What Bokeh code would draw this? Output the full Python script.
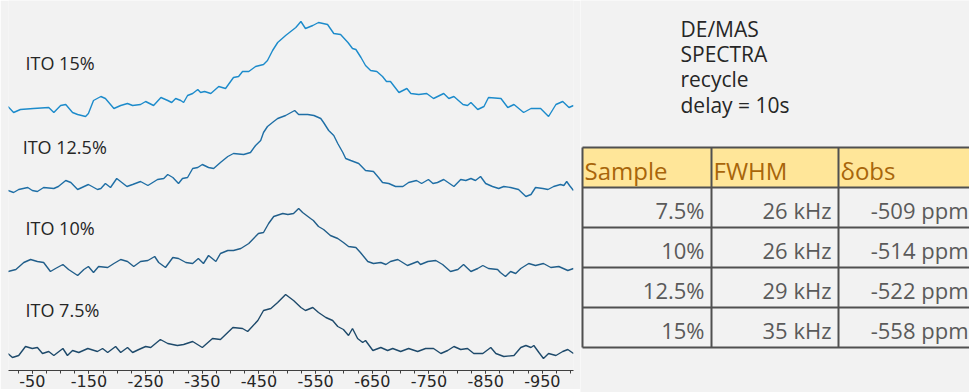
from bokeh.plotting import figure
from bokeh.models import Range1d, FixedTicker
from bokeh.layouts import row
from bokeh.core.properties import value
from bokeh.embed import file_html
from bokeh.resources import INLINE

# ---------------- data ----------------
labels = ["ITO 7.5%", "ITO 10%", "ITO 12.5%", "ITO 15%"]

ppm_15 = [-7, -17, -29, -52, -79, -88, -100, -109, -121, -130, -144, -149, -158, -171, -179, -194, -206, -218, -227, -241,
          -250, -264, -277, -289, -296, -303, -312, -317, -324, -333, -342, -347, -354, -365, -379, -391, -405, -414, -421, -432,
          -444, -458, -465, -474, -483, -497, -506, -515, -524, -532, -545, -555, -571, -582, -594, -607, -615, -621, -630, -638,
          -647, -658, -668, -675, -682, -697, -711, -718, -732, -746, -758, -776, -785, -794, -810, -818, -824, -836, -847, -855,
          -877, -889, -900, -917, -930, -947, -961, -974, -986, -997, -1005]
int_15 = [4, -2, 1, 2, 3, -2, 5, 6, -2, -4, -6, -3, 10, 14, 12, 2, 5, 7, 5, 6,
          9, 5, 13, 10, 8, 12, 10, 8, 15, 17, 21, 18, 19, 17, 24, 22, 33, 34, 39, 39,
          44, 46, 50, 60, 68, 75, 79, 83, 89, 82, 85, 88, 86, 77, 76, 68, 62, 61, 53, 45,
          40, 39, 34, 29, 29, 18, 22, 17, 16, 17, 12, 17, 12, 14, 6, 5, 8, 1, 4, 13,
          12, 3, 6, -2, 2, 2, -6, 6, 9, 3, 5]

ppm_125 = [-7, -17, -26, -42, -50, -59, -70, -88, -96, -109, -118, -130, -149, -165, -171, -179, -188, -199, -208, -217,
           -227, -241, -254, -271, -282, -289, -298, -308, -315, -324, -333, -342, -350, -361, -370, -382, -395, -405, -423, -435,
           -444, -453, -458, -465, -476, -483, -497, -513, -520, -536, -547, -559, -564, -573, -582, -589, -598, -603, -612, -626,
           -638, -652, -661, -668, -679, -691, -704, -714, -728, -737, -749, -757, -765, -776, -794, -806, -815, -824, -832, -841,
           -850, -862, -873, -882, -894, -908, -921, -930, -938, -951, -960, -970, -982, -988, -993, -998, -1005]
int_125 = [2, 0, 3, 5, 2, 1, 5, 4, 6, 12, 10, 3, 8, 3, 4, 9, 5, 14, 10, 6,
           8, 11, 7, 13, 14, 18, 15, 9, 14, 15, 24, 25, 28, 25, 24, 30, 36, 39, 38, 40,
           47, 52, 60, 66, 71, 74, 77, 82, 78, 78, 77, 74, 70, 62, 57, 49, 40, 34, 32, 29,
           22, 21, 15, 10, 9, 6, 6, 10, 12, 9, 13, 9, 10, 13, 6, 13, 12, 14, 12, 16,
           9, 6, 4, 6, 5, 3, -4, -2, 5, 4, 3, 6, 8, 7, 11, 7, 2]

ppm_10 = [-7, -21, -35, -47, -59, -70, -82, -91, -104, -114, -130, -141, -149, -158, -167, -183, -194, -206, -218, -229,
          -241, -254, -266, -273, -285, -298, -308, -321, -333, -343, -352, -361, -374, -382, -395, -405, -418, -432, -449, -458,
          -467, -476, -492, -501, -511, -520, -527, -534, -541, -546, -555, -564, -576, -589, -599, -608, -621, -629, -642, -652,
          -665, -674, -682, -695, -712, -730, -735, -748, -762, -774, -788, -801, -811, -824, -836, -845, -855, -871, -876, -885,
          -894, -903, -912, -926, -938, -952, -965, -979, -995, -1005]
int_10 = [1, 3, 10, 13, 11, 10, 1, 4, 8, 3, -3, 3, 6, 0, 6, 5, 9, 13, 11, 6,
          11, 12, 16, 10, 5, 15, 14, 10, 9, 14, 9, 17, 11, 19, 22, 22, 24, 29, 39, 40,
          49, 56, 59, 58, 59, 64, 60, 57, 54, 52, 46, 43, 37, 34, 30, 26, 25, 20, 11, 9,
          10, 8, 11, 13, 7, 11, 8, 11, 12, 8, 1, 3, 8, 1, 4, 7, 4, 3, 0, -4,
          1, -1, 4, 9, 7, 9, 5, 6, 2, 4]

ppm_75 = [-7, -15, -26, -38, -50, -59, -68, -79, -88, -104, -112, -121, -132, -148, -165, -174, -183, -197, -206, -218,
          -227, -238, -250, -259, -276, -289, -306, -317, -333, -350, -368, -382, -404, -421, -430, -448, -458, -471, -483, -497,
          -511, -524, -532, -545, -555, -568, -580, -589, -599, -608, -615, -624, -633, -638, -651, -665, -677, -686, -700, -714,
          -730, -744, -758, -771, -783, -794, -806, -818, -829, -845, -859, -868, -882, -900, -912, -921, -930, -935, -944, -952,
          -961, -974, -986, -995, -1005]
int_75 = [1, -3, -1, 8, 6, 7, 1, 3, -1, 6, -1, 4, 2, 6, 3, 6, 2, 8, 2, 7,
          2, 5, 8, 7, 15, 11, 9, 10, 13, 7, 16, 15, 27, 26, 23, 34, 44, 46, 52, 60,
          54, 47, 44, 47, 42, 37, 34, 28, 25, 19, 26, 16, 12, 14, 4, 7, 4, 6, 3, 6,
          3, 6, 6, 1, 4, 8, 5, 6, 1, 1, 7, 1, -2, -1, 7, 9, 7, 9, 2, -4,
          1, -1, 3, 5, 1]

tick_values = [-50, -150, -250, -350, -450, -550, -650, -750, -850, -950]

note_lines = ["DE/MAS", "SPECTRA", "recycle", "delay = 10s"]
table_header = ["Sample", "FWHM", "\u03b4obs"]
samples = ["7.5%", "10%", "12.5%", "15%"]
fwhm = ["26 kHz", "26 kHz", "29 kHz", "35 kHz"]
delta_obs = ["-509 ppm", "-514 ppm", "-522 ppm", "-558 ppm"]

# ---------------- layout / style ----------------
BG = "#F2F2F2"
stack_offset = [20, 102, 182, 264]          # vertical stacking of the spectra
colors = ["#1E4A6B", "#215E8A", "#1F6FA6", "#1C8BCB"]
label_x = [-38, -38, -33, -38]
label_dy = [45, 45, 46, 48]

p = figure(frame_width=565, frame_height=370, x_range=Range1d(-8, -1005), y_range=Range1d(4, 374),
           title=None, output_backend="svg", toolbar_location=None, y_axis_location=None,
           min_border_left=8, min_border_right=7, min_border_top=0, min_border_bottom=0,
           background_fill_color=BG, border_fill_color=BG, outline_line_color=None)
p.grid.visible = False

series = [(ppm_75, int_75), (ppm_10, int_10), (ppm_125, int_125), (ppm_15, int_15)]
for (xs, ys), off, c in zip(series, stack_offset, colors):
    p.line(x=xs, y=[v + off for v in ys], line_color=c, line_width=1.4)

p.text(x=label_x, y=[o + d for o, d in zip(stack_offset, label_dy)], text=labels,
       text_font=value("Open Sans"), text_font_size="18px", text_baseline="middle",
       text_align="left", text_color="#262626")

ax = p.xaxis[0]
ax.ticker = FixedTicker(ticks=tick_values, minor_ticks=list(range(-25, -1001, -25)))
ax.major_label_overrides = {t: str(t) for t in tick_values}
ax.axis_line_color = "#404040"
ax.major_tick_line_color = "#404040"
ax.minor_tick_line_color = "#404040"
ax.major_tick_in = 0
ax.major_tick_out = 3
ax.minor_tick_in = 0
ax.minor_tick_out = 3
ax.major_label_standoff = 1
ax.major_label_text_font = "DejaVu Sans"
ax.major_label_text_font_size = "16px"
ax.major_label_text_color = "#262626"

# ---------------- right panel: note + table ----------------
q = figure(frame_width=389, frame_height=392, x_range=Range1d(0, 389), y_range=Range1d(392, 0),
           title=None, output_backend="svg", toolbar_location=None,
           x_axis_location=None, y_axis_location=None,
           min_border_left=0, min_border_right=0, min_border_top=0, min_border_bottom=0,
           background_fill_color=BG, border_fill_color=BG, outline_line_color=None)
q.grid.visible = False

note_centers = [28, 53, 78, 104]
q.text(x=[100] * len(note_lines), y=note_centers, text=note_lines,
       text_font=value("Open Sans"), text_font_size="21px", text_baseline="middle",
       text_color="#262626")

col_edges = [2, 131, 258, 392]
row_edges = [147, 187, 227, 267, 307, 347]

q.quad(left=col_edges[:-1], right=col_edges[1:], top=[row_edges[0]] * 3, bottom=[row_edges[1]] * 3,
       fill_color="#FFE699", line_color=None)

q.text(x=[e + 2 for e in col_edges[:-1]], y=[row_edges[1] - 17] * 3, text=table_header,
       text_font=value("Open Sans"), text_font_size="24px", text_baseline="middle",
       text_color="#A8650A")

cell_x, cell_y, cell_t = [], [], []
for r, vals in enumerate(zip(samples, fwhm, delta_obs)):
    for c, t in enumerate(vals):
        cell_x.append(col_edges[c + 1] - 7 if c < 2 else 388)
        cell_y.append(row_edges[r + 2] - 18)
        cell_t.append(t)
q.text(x=cell_x, y=cell_y, text=cell_t, text_font=value("Open Sans"), text_font_size="22px",
       text_baseline="middle", text_align="right", text_color="#5A5A5A")

q.segment(x0=[col_edges[0]] * len(row_edges), x1=[col_edges[-1]] * len(row_edges),
          y0=row_edges, y1=row_edges, line_color="#505050", line_width=2)
q.segment(x0=col_edges[:-1], x1=col_edges[:-1], y0=[row_edges[0]] * 3, y1=[row_edges[-1]] * 3,
          line_color="#505050", line_width=2)

layout = row(p, q)
open("out.html", "w").write(file_html(layout, INLINE))
